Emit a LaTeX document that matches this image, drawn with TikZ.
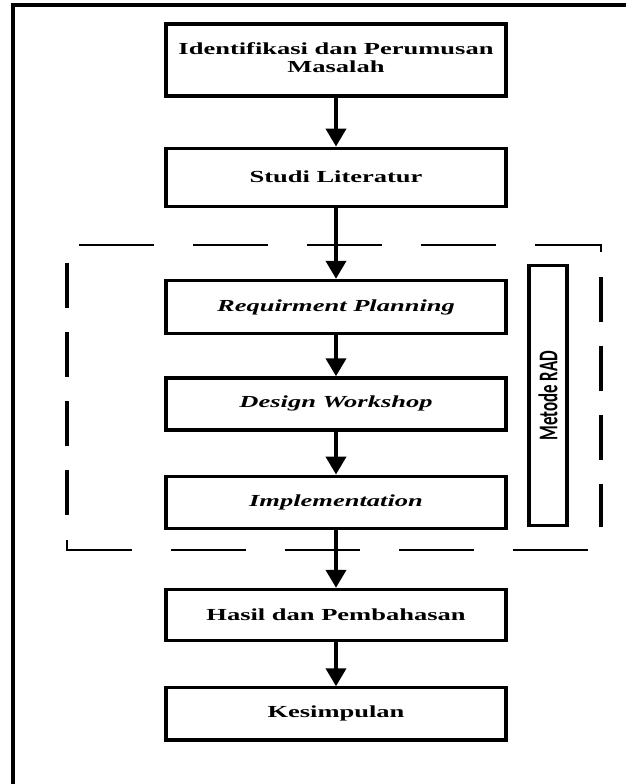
\documentclass[tikz,border=0pt]{standalone}
\usepackage{fontspec}
\setmainfont{Liberation Serif}
\newfontfamily\radfont{Carlito}
\usepackage{graphicx}
\usetikzlibrary{matrix,arrows.meta}

\newcommand{\widen}[1]{\scalebox{1.57}[1]{#1}}

\tikzset{
  stage/.style={draw,line width=2.3pt,minimum width=8.5cm,inner sep=0pt,
    font=\fontsize{12}{13}\selectfont\bfseries},
  flow/.style={line width=2.8pt,-{Triangle[width=0.5cm,length=0.45cm]}},
  hdash/.style={line width=2pt,dash pattern=on 1.875cm off 0.975cm},
  vdash/.style={line width=2.8pt,dash pattern=on 1.125cm off 0.6cm},
}

\begin{document}
\begin{tikzpicture}[x=0.025cm,y=-0.025cm]
\useasboundingbox (0,0) rectangle (626,784);
% outer frame, cut off at the right and bottom edge
\draw[line width=2.8pt] (13,784) -- (13,5) -- (626,5);

\matrix(m)[matrix of nodes,inner sep=0pt,nodes={stage},anchor=north] at (336,22) {
    |[minimum height=1.8cm]| \widen{\begin{tabular}{@{}c@{}}Identifikasi dan Perumusan\\Masalah\end{tabular}} \\[1.225cm]
    |[minimum height=1.45cm]| \widen{Studi Literatur} \\[1.775cm]
    |[minimum height=1.33cm]| \widen{\itshape Requirment Planning} \\[1.025cm]
    |[minimum height=1.3cm]| \widen{\itshape Design Workshop} \\[1.075cm]
    |[minimum height=1.3cm]| \widen{\itshape Implementation} \\[1.45cm]
    |[minimum height=1.28cm]| \widen{Hasil dan Pembahasan} \\[1.1cm]
    |[minimum height=1.3cm]| \widen{Kesimpulan} \\
};

% RAD group
\draw[hdash] (79,245) -- (601,245) -- (601,252);
\draw[vdash] (601,277) -- (601,527);
\draw[vdash] (67,263) -- (67,515);
\draw[hdash] (67,540) -- (67,550) -- (597,550);

\node[draw,line width=2.3pt,minimum width=0.95cm,minimum height=6.5cm,inner sep=0pt] (rad) at (548,395.5)
  {\rotatebox{90}{\scalebox{1}[1.6]{\radfont\bfseries\fontsize{12}{12}\selectfont Metode RAD}}};

\foreach \a/\b in {1/2,2/3,3/4,4/5,5/6,6/7}
  \draw[flow] (m-\a-1) -- (m-\b-1);
\end{tikzpicture}
\end{document}
